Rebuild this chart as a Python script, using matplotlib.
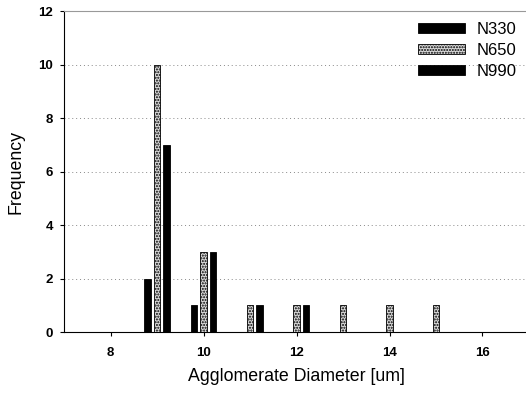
import numpy as np
import matplotlib.pyplot as plt

plt.rcParams['font.family'] = ['Liberation Sans', 'DejaVu Sans']

# data
diameters = [9, 10, 11, 12, 13, 14, 15]
n330 = [2, 1, 0, 0, 0, 0, 0]
n650 = [10, 3, 1, 1, 1, 1, 1]
n990 = [7, 3, 1, 1, 0, 0, 0]
series_names = ['N330', 'N650', 'N990']

fig = plt.figure(figsize=(5.26, 3.96), dpi=100)
ax = fig.add_axes([0.1217, 0.1616, 0.884, 0.8106])

x = np.array(diameters, dtype=float)
w = 0.14
ax.bar(x - 0.2, n330, width=w, color='black', edgecolor='black', lw=0.6,
       label=series_names[0], zorder=3)
ax.bar(x, n650, width=w, color='#d9d9d9', edgecolor='black', hatch='......',
       lw=0.6, label=series_names[1], zorder=3)
ax.bar(x + 0.2, n990, width=w, color='black', edgecolor='black', lw=0.6,
       label=series_names[2], zorder=3)

ax.set_xlim(7, 17)
ax.set_ylim(0, 12)
ax.set_xticks([8, 10, 12, 14, 16])
ax.set_yticks(range(0, 13, 2))
ax.yaxis.grid(True, linestyle=(0, (1, 3)), color='#888888', lw=0.7)
ax.set_axisbelow(True)

ax.spines['right'].set_visible(False)
ax.spines['top'].set_color('#999999')
ax.spines['left'].set_lw(0.8)
ax.spines['bottom'].set_lw(0.8)

ax.tick_params(axis='both', direction='out', length=3, width=0.8, labelsize=9.5)
for lbl in ax.get_xticklabels() + ax.get_yticklabels():
    lbl.set_fontweight('bold')
ax.tick_params(axis='x', pad=8)
ax.tick_params(axis='y', pad=5)

ax.set_xlabel('Agglomerate Diameter [um]', fontsize=12.8, labelpad=6)
ax.set_ylabel('Frequency', fontsize=12.8, labelpad=10)

leg = ax.legend(loc='upper right', bbox_to_anchor=(1.006, 1.012), frameon=False,
                fontsize=12, handlelength=2.8, handleheight=0.55,
                labelspacing=0.35, handletextpad=0.7)

fig.savefig('out.png', dpi=100)
